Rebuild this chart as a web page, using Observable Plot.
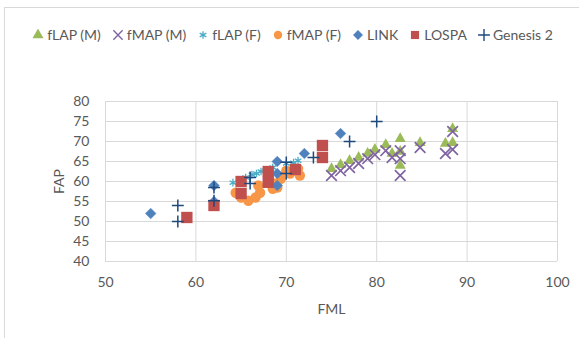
<!DOCTYPE html>
<html>
<head>
<meta charset="utf-8">
<script src="https://cdn.jsdelivr.net/npm/d3@7"></script>
<script src="https://cdn.jsdelivr.net/npm/@observablehq/plot@0.6"></script>
<style>
  html, body { margin: 0; padding: 0; background: #fff; }
  #wrap { position: relative; width: 579px; height: 338px; overflow: hidden; font-family: Lato, "Open Sans", sans-serif; }
  #border { position: absolute; left: 4px; top: 7px; width: 600px; height: 400px; border: 1px solid #d9d9d9; box-sizing: border-box; }
  #legend { position: absolute; left: 0; top: 26px; width: 579px; display: flex; justify-content: center; align-items: center; font-size: 14px; color: #595959; gap: 11px; padding-left: 6px; box-sizing: border-box; }
  #legend .item { display: flex; align-items: center; gap: 3px; white-space: nowrap; }
  #chart { position: absolute; left: 0; top: 0; }
</style>
</head>
<body>
<div id="wrap">
  <div id="border"></div>
  <div id="chart"></div>
  <div id="legend"></div>
</div>
<script>
// ---- data ----
const seriesNames = ["fLAP (M)", "fMAP (M)", "fLAP (F)", "fMAP (F)", "LINK", "LOSPA", "Genesis 2"];

const fLAP_M_x = [75, 76, 77, 78, 79, 79.8, 81, 81.7, 82.6, 82.6, 82.6, 84.8, 87.6, 88.4, 88.4];
const fLAP_M_y = [63.2, 64.2, 65.2, 66, 67, 68, 69.2, 67, 70.7, 67.5, 64, 69.7, 69.5, 69.7, 73.2];

const fMAP_M_x = [75, 76, 77, 78, 79, 79.8, 81, 81.7, 82.6, 82.6, 82.6, 84.8, 87.6, 88.4, 88.4];
const fMAP_M_y = [61.5, 62.7, 63.5, 64.5, 65.7, 66.7, 67.7, 66, 67.7, 65.7, 61.5, 68.5, 67, 68, 72.5];

const fLAP_F_x = [64.1, 65.5, 66.2, 66.7, 67.2, 67.7, 68.5, 70, 70.8, 71.3];
const fLAP_F_y = [59.7, 61, 61.7, 62, 62.5, 62.7, 63.5, 64.5, 64.7, 65.2];

const fMAP_F_x = [64.4, 65, 65.8, 66.6, 67.1, 66.9, 68.6, 69, 69.4, 70.4, 71.3, 71.5, 70, 68.5];
const fMAP_F_y = [57.2, 56, 55.2, 56, 57.2, 59, 59.5, 58.5, 60.7, 62, 63.2, 61.5, 62.7, 58.2];

const LINK_x = [55, 62, 62, 69, 69, 69, 72, 76];
const LINK_y = [52, 59, 55, 65, 62, 59, 67, 72];

const LOSPA_x = [59, 62, 65, 65, 68, 68, 71, 74, 74];
const LOSPA_y = [51, 54, 60, 57, 62.5, 59.8, 63, 69, 66];

const GEN_x = [58, 58, 62, 62, 66, 66, 70, 70, 73, 77, 80];
const GEN_y = [54, 50, 58.5, 55.2, 61, 59.5, 64.8, 62, 66, 70, 75];

const xTicks = [50, 60, 70, 80, 90, 100];
const yTicks = [40, 45, 50, 55, 60, 65, 70, 75, 80];

// ---- styles ----
const styles = {
  "fLAP (M)": {symbol: "triangle", fill: "#9BBB59", stroke: "none", r: 4.1, sw: 0},
  "fMAP (M)": {symbol: "times", fill: "none", stroke: "#8064A2", r: 4.9, sw: 1.7},
  "fLAP (F)": {symbol: "asterisk", fill: "none", stroke: "#4BACC6", r: 3.6, sw: 1.3},
  "fMAP (F)": {symbol: "circle", fill: "#F79646", stroke: "none", r: 5.2, sw: 0},
  "LINK": {symbol: "diamond2", fill: "#4F81BD", stroke: "#4F81BD", r: 4.8, sw: 0.5},
  "LOSPA": {symbol: "square", fill: "#C0504D", stroke: "none", r: 6.4, sw: 0},
  "Genesis 2": {symbol: "plus", fill: "none", stroke: "#1F497D", r: 3.9, sw: 1.5}
};

const pairs = {
  "fLAP (M)": [fLAP_M_x, fLAP_M_y],
  "fMAP (M)": [fMAP_M_x, fMAP_M_y],
  "fLAP (F)": [fLAP_F_x, fLAP_F_y],
  "fMAP (F)": [fMAP_F_x, fMAP_F_y],
  "LINK": [LINK_x, LINK_y],
  "LOSPA": [LOSPA_x, LOSPA_y],
  "Genesis 2": [GEN_x, GEN_y]
};

const table = seriesNames.map(name => ({
  name,
  rows: pairs[name][0].map((x, i) => ({x, y: pairs[name][1][i]}))
}));

const marks = [
  Plot.gridX(xTicks, {stroke: "#d9d9d9", strokeOpacity: 1, strokeWidth: 1}),
  Plot.gridY(yTicks, {stroke: "#d9d9d9", strokeOpacity: 1, strokeWidth: 1}),
  Plot.axisX(xTicks, {tickSize: 0, tickPadding: 16, fontSize: 14, fill: "#595959",
    label: "FML", labelAnchor: "center", labelArrow: "none", labelOffset: 52}),
  Plot.axisY(yTicks, {tickSize: 0, tickPadding: 16, fontSize: 14, fill: "#595959",
    label: "FAP", labelAnchor: "center", labelArrow: "none", labelOffset: 51})
];
for (const s of table) {
  const st = styles[s.name];
  marks.push(Plot.dot(s.rows, {
    x: "x", y: "y", symbol: () => st.symbol, r: st.r,
    fill: st.fill, stroke: st.stroke, strokeWidth: st.sw
  }));
}

const plot = Plot.plot({
  width: 579,
  height: 338,
  marginTop: 101,
  marginBottom: 77,
  marginLeft: 105,
  marginRight: 22,
  x: {domain: [50, 100]},
  y: {domain: [40, 80]},
  symbol: {type: "identity"},
  style: {fontFamily: "Lato, 'Open Sans', sans-serif", fontSize: "14px", color: "#595959", background: "transparent"},
  marks
});
document.getElementById("chart").appendChild(plot);

// ---- legend ----
const legend = d3.select("#legend");
const symMap = {triangle: d3.symbolTriangle, times: d3.symbolTimes, asterisk: d3.symbolAsterisk,
  circle: d3.symbolCircle, diamond2: d3.symbolDiamond2, square: d3.symbolSquare, plus: d3.symbolPlus};
for (const name of seriesNames) {
  const st = styles[name];
  const item = legend.append("div").attr("class", "item");
  const svg = item.append("svg").attr("width", 12).attr("height", 12).attr("viewBox", "-6 -6 12 12");
  const rr = name === "LOSPA" ? 4.6 : name === "fMAP (F)" ? 4.2 : name === "fMAP (M)" ? 4.3 : name === "LINK" ? 4.2 : st.r;
  svg.append("path")
    .attr("d", d3.symbol(symMap[st.symbol], rr * rr * Math.PI)())
    .attr("fill", st.fill).attr("stroke", st.stroke).attr("stroke-width", Math.min(st.sw, 1.4));
  item.append("span").text(name);
}
</script>
</body>
</html>
